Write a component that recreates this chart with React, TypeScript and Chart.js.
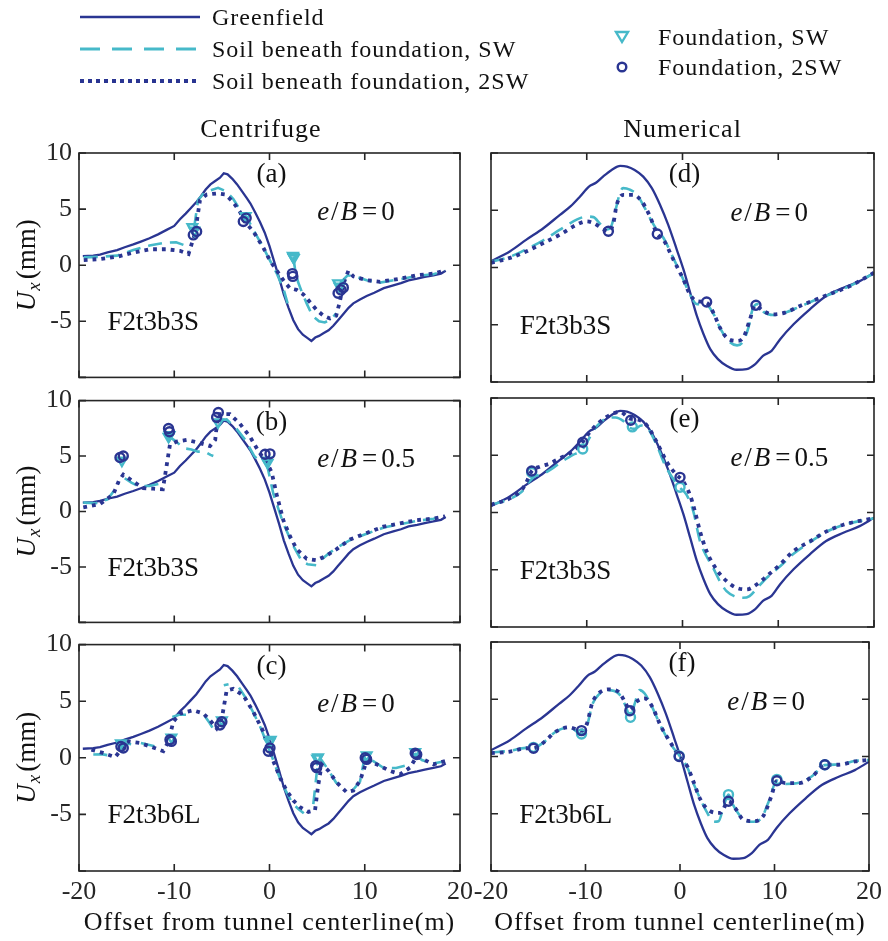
import React, { useEffect, useRef } from 'react';
import { Chart, registerables } from 'chart.js';

Chart.register(...registerables);

// ---------- styles ----------
const NAVY = '#2a3592';
const CYAN = '#46b9c9';
const INK = '#111111';
const AXIS = '#262626';
const SERIF = '"Liberation Serif", "Times New Roman", serif';

// ---------- labels ----------
const xTickValues = [-20, -10, 0, 10, 20];
const xTickLabels = ['-20', '-10', '0', '10', '20'];
const yTickValues = [-10, -5, 0, 5, 10];
const yTickLabels = ['', '-5', '0', '5', '10'];

const legendLabels = ['Greenfield', 'Soil beneath foundation, SW', 'Soil beneath foundation, 2SW', 'Foundation, SW', 'Foundation, 2SW'];
const columnTitles = ['Centrifuge', 'Numerical'];
const xAxisTitle = 'Offset from tunnel centerline(m)';
const panelLetters = ['(a)', '(b)', '(c)', '(d)', '(e)', '(f)'];
const eccentricity = ['0', '0.5', '0', '0', '0.5', '0'];
const specimens = ['F2t3b3S', 'F2t3b3S', 'F2t3b6L', 'F2t3b3S', 'F2t3b3S', 'F2t3b6L'];

// ---------- greenfield ----------
const cenGreenX = [-19.6, -18.5, -17.8, -17.0, -16.0, -15.2, -14.3, -13.5, -12.6, -11.7, -10.8, -10.0, -9.4, -8.8, -8.3, -7.7, -7.2, -6.7, -6.2, -5.7, -5.2, -4.8, -4.4, -3.9, -3.4, -2.9, -2.4, -2.0, -1.5, -1.0, -0.5, 0.0, 0.5, 1.0, 1.5, 2.0, 2.5, 3.0, 3.5, 4.0, 4.4, 4.8, 5.2, 5.7, 6.2, 6.7, 7.2, 7.8, 8.3, 8.8, 9.5, 10.2, 11.0, 12.0, 13.0, 13.8, 14.6, 15.5, 16.3, 17.2, 18.0, 18.5];
const cenGreenY = [0.8, 0.85, 0.95, 1.15, 1.35, 1.6, 1.85, 2.1, 2.4, 2.75, 3.15, 3.5, 4.1, 4.6, 5.05, 5.6, 6.15, 6.75, 7.2, 7.5, 7.8, 8.2, 8.1, 7.7, 7.2, 6.6, 6.0, 5.5, 4.7, 3.85, 2.9, 1.7, 0.3, -1.1, -2.6, -3.8, -4.9, -5.7, -6.2, -6.5, -6.75, -6.45, -6.3, -6.05, -5.8, -5.4, -4.9, -4.3, -3.8, -3.4, -3.05, -2.75, -2.45, -2.05, -1.8, -1.6, -1.35, -1.2, -1.05, -0.9, -0.75, -0.5];

const numGreenX = [-20, -18, -16.3, -14.5, -12.8, -11.7, -10.7, -9.8, -9.0, -8.3, -7.4, -6.5, -5.8, -5.0, -4.1, -3.2, -2.35, -1.5, -0.6, 0.1, 0.8, 1.5, 2.2, 2.9, 3.7, 4.6, 5.65, 6.7, 7.6, 8.4, 9.3, 10.2, 11.6, 13.3, 15.0, 16.8, 18.5, 20];
const numGreenY = [0.55, 1.42, 2.43, 3.45, 4.6, 5.33, 6.2, 7.05, 7.42, 7.94, 8.52, 8.87, 8.81, 8.52, 7.94, 6.93, 5.48, 3.74, 1.57, -0.17, -2.2, -4.23, -5.83, -7.13, -8.0, -8.58, -8.93, -8.87, -8.43, -7.71, -7.28, -6.26, -4.96, -3.65, -2.49, -1.77, -1.19, -0.46];

// ---------- (a) centrifuge, e/B=0, F2t3b3S ----------
const aSwX = [-19.5, -17.8, -16.0, -14.3, -12.6, -11.0, -9.8, -9.0, -8.4, -8.2, -7.9, -7.5, -6.8, -5.4, -4.6, -3.8, -3.0, -2.4, -1.6, -0.8, 0.0, 0.8, 1.5, 1.9, 2.2, 2.5, 2.7, 3.0, 3.4, 3.9, 4.5, 5.2, 5.8, 6.5, 7.0, 7.1, 7.4, 8.2, 9.0, 10.2, 11.6, 13.7, 15.5, 17.2, 18.4];
const aSwY = [0.7, 0.75, 0.85, 1.35, 1.75, 2.0, 2.05, 1.8, 1.3, null, 3.4, 5.8, 6.5, 6.9, 6.6, 5.9, 4.8, 4.3, 3.0, 1.8, 0.5, -0.8, -2.2, -3.4, null, 0.8, -0.5, -1.5, -2.4, -3.4, -4.5, -5.0, -5.1, -4.8, -4.3, null, -1.6, -0.9, -1.0, -1.35, -1.55, -1.25, -0.95, -0.8, -0.5];
const a2swX = [-19.5, -17.8, -16.0, -14.3, -12.6, -10.8, -9.4, -8.5, -7.8, -7.3, -6.6, -5.5, -4.6, -3.8, -3.1, -2.6, -1.7, -0.65, 0.05, 0.75, 1.45, 2.15, 2.85, 3.55, 4.26, 4.96, 5.65, 6.35, 7.0, 7.4, 7.7, 8.28, 8.8, 10.2, 11.6, 13.7, 15.46, 17.2, 18.43];
const a2swY = [0.46, 0.55, 0.75, 1.13, 1.42, 1.42, 1.28, 1.0, 2.9, 5.8, 6.3, 6.4, 6.3, 5.6, 4.75, 3.9, 3.0, 1.57, 0.41, -0.46, -1.33, -2.06, -2.2, -2.6, -3.3, -4.0, -4.5, -4.75, -4.5, -3.2, -1.8, -0.5, -1.0, -1.33, -1.48, -1.2, -0.9, -0.75, -0.46];
const aFndSwX = [-8.1, -7.9, -2.5, 2.45, 2.55, 2.5, 7.2, 7.35];
const aFndSwY = [3.4, 3.1, 4.4, 0.85, 0.65, 0.75, -1.6, -1.9];
const aFnd2swX = [-8.0, -7.65, -2.75, -2.45, 2.4, 2.45, 7.2, 7.5, 7.75];
const aFnd2swY = [2.7, 3.0, 3.9, 4.2, -0.75, -1.0, -2.5, -2.2, -2.0];

// ---------- (b) centrifuge, e/B=0.5, F2t3b3S ----------
const bSwX = [-19.55, -18.2, -17.0, -16.3, -15.8, -15.6, -15.2, -14.5, -13.8, -12.6, -11.6, -11.2, -11.0, -10.6, -9.8, -9.0, -8.2, -7.5, -6.8, -6.2, -5.9, -5.7, -5.4, -4.5, -3.5, -2.5, -1.6, -0.8, -0.6, -0.3, 0.4, 1.45, 2.5, 3.4, 4.0, 4.9, 5.1, 5.5, 6.2, 7.0, 8.4, 10.2, 12.0, 13.7, 15.5, 17.2, 18.4];
const bSwY = [0.8, 0.75, 1.1, 1.9, 2.6, null, 3.0, 2.6, 2.3, 2.3, 2.5, 2.7, null, 6.8, 6.3, 5.7, 5.6, 5.4, 5.4, 5.1, 5.0, null, 8.2, 8.3, 7.5, 6.4, 5.0, 4.3, null, 4.4, 1.6, -1.07, -3.1, -4.5, -4.75, -4.85, null, -4.3, -3.8, -3.3, -2.6, -2.0, -1.45, -1.15, -0.85, -0.65, -0.45];
const b2swX = [-19.55, -17.8, -16.4, -15.8, -15.35, -14.3, -13.25, -12.2, -11.2, -10.8, -10.45, -9.75, -8.7, -7.3, -6.25, -5.7, -5.4, -4.15, -3.1, -2.05, -1.17, -0.3, 0.22, 0.75, 1.45, 2.15, 2.85, 3.9, 4.96, 6.0, 7.05, 8.45, 10.2, 11.96, 13.7, 15.46, 17.2, 18.43];
const b2swY = [0.38, 0.67, 1.54, 2.8, 3.33, 2.7, 2.1, 2.06, 2.0, 4.14, 6.03, 6.3, 6.46, 6.17, 5.9, 6.46, 8.78, 8.78, 7.9, 6.75, 5.45, 4.43, 3.56, 1.54, -0.78, -2.23, -3.39, -4.26, -4.4, -3.97, -3.39, -2.52, -1.94, -1.36, -1.07, -0.78, -0.64, -0.43];
const bFndSwX = [-15.5, -10.6, -10.5, -5.4, -0.3, -0.2];
const bFndSwY = [4.6, 6.75, 6.9, 8.06, 4.6, 4.4];
const bFnd2swX = [-15.7, -15.35, -10.6, -10.5, -5.55, -5.37, -0.47, 0.05];
const bFnd2swY = [4.87, 5.0, 7.48, 7.19, 8.49, 8.93, 5.16, 5.2];

// ---------- (c) centrifuge, e/B=0, F2t3b6L ----------
const cSwX = [-18.5, -17.5, -16.8, -16.4, -15.9, -15.2, -14.5, -14.0, -13.5, -12.5, -11.5, -10.8, -10.2, -9.5, -8.6, -8.0, -7.4, -6.8, -6.3, -5.8, -5.5, -5.2, -4.8, -4.3, -3.9, -3.2, -2.5, -1.7, -0.9, -0.3, 0.3, 1.0, 1.7, 2.4, 3.0, 3.6, 4.1, 4.6, 5.0, 5.3, 6.2, 7.0, 7.8, 8.3, 8.8, 9.5, 10.0, 10.9, 12.0, 13.3, 14.2, 14.7, 15.2, 16.0, 17.2, 18.4];
const cSwY = [0.29, 0.3, 0.2, null, 1.0, 1.3, 1.2, null, 1.3, 1.1, 0.9, null, 3.6, 3.8, 3.8, 3.6, null, 3.7, 3.1, 2.4, 2.1, null, 6.4, 6.5, null, 6.2, 5.3, 4.0, 2.6, 1.3, 0.0, -1.6, -2.9, -4.0, -4.5, -4.9, null, -4.1, -1.0, 0.0, -1.1, -2.2, -2.6, null, -2.8, -2.1, 0.1, -0.3, -0.9, -0.9, -0.7, null, 0.4, -0.2, -0.5, -0.3];
const c2swX = [-18.7, -17.5, -16.2, -15.7, -15.2, -14.8, -13.6, -12.55, -11.15, -10.6, -10.1, -9.4, -8.0, -6.95, -6.25, -5.55, -5.0, -4.5, -3.8, -2.75, -1.7, -0.65, -0.12, 0.4, 1.1, 1.8, 2.5, 3.2, 4.08, 4.78, 5.1, 5.48, 6.2, 7.05, 8.1, 8.8, 9.5, 10.2, 11.26, 12.66, 13.7, 14.75, 15.46, 16.16, 17.2, 18.43];
const c2swY = [0.72, 0.43, 0.06, 0.6, 1.2, 1.45, 1.3, 1.01, 0.58, 1.45, 3.19, 3.91, 4.2, 3.91, 3.33, 2.6, 3.5, 5.94, 6.09, 5.51, 4.06, 2.32, 1.01, -0.29, -1.74, -2.9, -3.77, -4.35, -4.78, -4.64, -2.5, -0.58, -1.16, -2.17, -3.04, -2.9, -2.03, -0.29, -0.58, -1.16, -1.45, -0.87, 0.14, -0.14, -0.58, -0.29];
const cFndSwX = [-15.6, -10.3, -5.0, 0.12, 0.0, 5.1, 5.0, 10.2, 15.3];
const cFndSwY = [1.3, 1.8, 3.33, 1.59, 1.4, 0.06, -0.05, 0.23, 0.52];
const cFnd2swX = [-15.35, -15.6, -10.3, -10.45, -5.2, -5.0, -0.12, 0.05, 4.95, 4.85, 10.2, 10.05, 15.46, 15.3];
const cFnd2swY = [0.87, 1.0, 1.45, 1.6, 2.9, 3.19, 0.58, 0.87, -0.87, -0.7, -0.14, 0.0, 0.29, 0.4];

// ---------- (d) numerical, e/B=0, F2t3b3S ----------
const dSwX = [-20, -18, -16.3, -14.5, -12.8, -11.0, -10.0, -9.3, -8.6, -8.0, -7.5, -7.0, -6.5, -6.2, -5.5, -4.8, -4.0, -3.2, -2.6, -2.0, -1.0, 0.0, 0.8, 1.5, 2.4, 3.2, 4.0, 4.8, 5.7, 6.3, 6.9, 7.3, 7.8, 8.5, 9.5, 10.7, 12.3, 14.0, 15.8, 17.5, 20];
const dSwY = [0.5, 0.95, 1.6, 2.4, 3.3, 4.2, 4.45, 4.4, 3.8, 3.3, 3.5, 5.0, 6.6, 6.93, 6.8, 6.4, 5.3, 4.0, 3.2, 2.6, 0.9, -0.9, -2.4, -3.2, -3.2, -4.0, -5.4, -6.4, -6.8, -6.5, -5.2, -3.7, -3.2, -3.9, -4.15, -3.95, -3.4, -2.8, -2.2, -1.6, -0.5];
const d2swX = [-20, -18, -16.27, -14.53, -12.79, -11.05, -10.0, -9.3, -8.44, -7.74, -7.22, -6.87, -6.18, -5.13, -4.26, -3.39, -2.7, -2.0, -0.96, 0.09, 0.78, 1.48, 2.52, 3.22, 3.91, 4.61, 5.65, 6.35, 7.05, 7.57, 8.44, 9.48, 10.7, 12.27, 14.0, 15.75, 17.49, 20];
const d2swY = [0.41, 0.84, 1.42, 2.14, 2.87, 3.74, 4.03, 3.88, 3.45, 3.16, 3.88, 5.48, 6.35, 6.35, 5.77, 4.46, 3.01, 2.43, 0.7, -1.04, -2.35, -2.93, -3.07, -3.94, -5.25, -6.12, -6.41, -6.12, -4.52, -3.3, -3.8, -4.09, -3.94, -3.36, -2.78, -2.2, -1.62, -0.46];
const dFndSwX: number[] = [];
const dFndSwY: number[] = [];
const dFnd2swX = [-7.74, -2.63, 2.52, 7.67];
const dFnd2swY = [3.16, 2.93, -3.01, -3.3];

// ---------- (e) numerical, e/B=0.5, F2t3b3S ----------
const eSwX = [-20, -18, -16.8, -16.0, -15.5, -14.5, -13.5, -12.5, -11.5, -10.42, -9.8, -9.0, -8.0, -7.0, -6.2, -5.5, -5.0, -4.3, -3.5, -2.7, -1.8, -0.78, -0.3, 0.43, 1.13, 1.83, 2.5, 3.2, 3.9, 4.6, 5.4, 6.3, 7.0, 7.8, 8.8, 10.2, 11.6, 13.3, 15.0, 16.8, 20];
const eSwY = [0.67, 1.2, 1.8, 2.7, 3.1, 3.4, 3.9, 4.5, 5.0, 5.54, 6.4, 7.5, 8.2, 8.3, 8.0, 7.4, 7.3, 7.6, 7.2, 5.9, 4.1, 2.7, 2.2, 1.54, 0.09, -2.52, -3.8, -4.84, -6.0, -6.87, -7.3, -7.45, -7.3, -6.6, -5.7, -4.7, -3.6, -2.6, -1.7, -1.1, -0.5];
const e2swX = [-20, -18, -16.8, -16.27, -15.75, -14.88, -13.83, -12.79, -11.74, -10.53, -9.66, -8.61, -7.57, -6.52, -5.48, -4.6, -3.74, -2.7, -1.65, -0.61, 0.0, 0.78, 1.3, 1.83, 2.52, 3.57, 4.61, 5.65, 6.7, 7.74, 8.79, 10.18, 11.57, 13.31, 15.05, 16.79, 20];
const e2swY = [0.67, 1.25, 1.97, 2.7, 3.62, 4.0, 4.29, 4.75, 5.19, 6.06, 7.04, 7.94, 8.52, 8.78, 8.2, 8.1, 7.62, 6.17, 4.43, 3.28, 2.8, 1.54, 0.09, -1.65, -3.39, -5.0, -6.0, -6.58, -6.72, -6.29, -5.57, -4.55, -3.39, -2.52, -1.65, -1.07, -0.49];
const eFndSwX = [-15.75, -10.42, -5.24, -0.26];
const eFndSwY = [3.5, 5.54, 7.48, 2.2];
const eFnd2swX = [-15.75, -10.42, -5.41, -0.26];
const eFnd2swY = [3.62, 6.14, 8.06, 3.07];

// ---------- (f) numerical, e/B=0, F2t3b6L ----------
const fSwX = [-20, -18, -16.3, -15.5, -14.5, -13.1, -11.7, -10.42, -9.8, -9.3, -8.6, -7.6, -6.5, -5.8, -5.24, -4.8, -4.26, -3.74, -3.0, -2.0, -1.0, 0.0, 0.8, 1.5, 2.2, 2.8, 3.6, 4.09, 4.6, 5.13, 5.6, 6.5, 7.5, 8.5, 9.4, 10.25, 11.2, 12.6, 14.0, 15.3, 16.8, 18.5, 20];
const fSwY = [0.35, 0.5, 0.75, 0.75, 1.2, 2.2, 2.55, 1.97, 2.8, 4.5, 5.4, 5.8, 5.5, 4.5, 3.42, 4.6, 5.8, 5.5, 4.4, 2.6, 1.1, 0.0, -1.0, -2.5, -3.8, -4.8, -5.7, -5.65, -4.4, -3.33, -4.2, -5.3, -5.7, -5.5, -3.9, -2.1, -2.4, -2.3, -1.7, -0.75, -0.7, -0.4, -0.3];
const f2swX = [-20, -18, -16.27, -15.5, -14.53, -13.14, -11.74, -10.42, -9.83, -9.3, -8.61, -7.57, -6.52, -5.83, -5.31, -4.61, -3.74, -3.04, -2.0, -0.96, -0.09, 0.78, 1.48, 2.17, 3.22, 4.26, 5.13, 5.83, 6.7, 7.74, 8.79, 9.66, 10.25, 11.22, 12.62, 14.0, 15.33, 16.79, 18.53, 20];
const f2swY = [0.29, 0.43, 0.72, 0.72, 1.16, 2.17, 2.55, 2.26, 2.9, 4.64, 5.51, 5.86, 5.65, 4.78, 4.06, 4.78, 5.07, 4.49, 2.61, 1.16, 0, -0.87, -2.32, -3.77, -4.78, -4.93, -3.91, -4.49, -5.51, -5.65, -5.22, -3.48, -2.12, -2.32, -2.32, -1.74, -0.72, -0.72, -0.43, -0.29];
const fFndSwX = [-15.5, -10.42, -5.24, -0.09, 5.13, 10.25, 15.33];
const fFndSwY = [0.8, 1.97, 3.42, 0.05, -3.33, -2.0, -0.72];
const fFnd2swX = [-15.5, -10.42, -5.31, -0.09, 5.13, 10.25, 15.33];
const fFnd2swY = [0.72, 2.26, 4.0, 0.0, -3.91, -2.12, -0.72];

// ---------- layout (page pixels) ----------
const COLS = [
  { left: 79, right: 460, canvasX: 0, canvasW: 480, titleX: -0.9 },
  { left: 491, right: 874, canvasX: 466, canvasW: 422, titleX: 0 },
];
const ROWS = [
  { top: 153, bottom: 382, canvasY: 108, canvasH: 292 },
  { top: 398, bottom: 627, canvasY: 378, canvasH: 267 },
  { top: 642, bottom: 871, canvasY: 622, canvasH: 319 },
];
const TICK = 7;

type Arr = (number | null)[];
interface PanelDef {
  col: number; row: number;
  green: [number[], Arr]; sw: [number[], Arr]; w2: [number[], Arr];
  mSw: [number[], Arr]; m2: [number[], Arr];
  numerical: boolean;
}

const panelDefs: PanelDef[] = [
  { col: 0, row: 0, green: [cenGreenX, cenGreenY], sw: [aSwX, aSwY], w2: [a2swX, a2swY], mSw: [aFndSwX, aFndSwY], m2: [aFnd2swX, aFnd2swY], numerical: false },
  { col: 0, row: 1, green: [cenGreenX, cenGreenY], sw: [bSwX, bSwY], w2: [b2swX, b2swY], mSw: [bFndSwX, bFndSwY], m2: [bFnd2swX, bFnd2swY], numerical: false },
  { col: 0, row: 2, green: [cenGreenX, cenGreenY], sw: [cSwX, cSwY], w2: [c2swX, c2swY], mSw: [cFndSwX, cFndSwY], m2: [cFnd2swX, cFnd2swY], numerical: false },
  { col: 1, row: 0, green: [numGreenX, numGreenY], sw: [dSwX, dSwY], w2: [d2swX, d2swY], mSw: [dFndSwX, dFndSwY], m2: [dFnd2swX, dFnd2swY], numerical: true },
  { col: 1, row: 1, green: [numGreenX, numGreenY], sw: [eSwX, eSwY], w2: [e2swX, e2swY], mSw: [eFndSwX, eFndSwY], m2: [eFnd2swX, eFnd2swY], numerical: true },
  { col: 1, row: 2, green: [numGreenX, numGreenY], sw: [fSwX, fSwY], w2: [f2swX, f2swY], mSw: [fFndSwX, fFndSwY], m2: [fFnd2swX, fFnd2swY], numerical: true },
];

const pts = (xs: number[], ys: Arr) => xs.map((x, i) => ({ x, y: ys[i] }));
const font = (size: number, italic = false) => `${italic ? 'italic ' : ''}${size}px ${SERIF}`;

type Run = { t: string; italic?: boolean; size?: number; dy?: number; gap?: number };
function drawRuns(ctx: CanvasRenderingContext2D, runs: Run[], x: number, y: number, align: 'left' | 'center', base: number) {
  const widths = runs.map((r) => {
    ctx.font = font(r.size ?? base, r.italic);
    return ctx.measureText(r.t).width;
  });
  const total = widths.reduce((s, w, i) => s + w + (runs[i].gap ?? 0), 0);
  let cx = align === 'center' ? x - total / 2 : x;
  ctx.textAlign = 'left';
  ctx.textBaseline = 'alphabetic';
  runs.forEach((r, i) => {
    ctx.font = font(r.size ?? base, r.italic);
    ctx.fillText(r.t, cx, y + (r.dy ?? 0));
    cx += widths[i] + (r.gap ?? 0);
  });
}

function makeDecor(p: PanelDef, idx: number) {
  return {
    id: 'decor' + idx,
    afterDraw(chart: any) {
      const { ctx, chartArea: a, scales } = chart;
      const xs = scales.x;
      const ys = scales.y;
      ctx.save();
      // box and inward ticks
      ctx.strokeStyle = AXIS;
      ctx.lineWidth = 1.6;
      ctx.strokeRect(a.left, a.top, a.right - a.left, a.bottom - a.top);
      ctx.beginPath();
      for (const v of xTickValues) {
        const px = xs.getPixelForValue(v);
        ctx.moveTo(px, a.bottom); ctx.lineTo(px, a.bottom - TICK);
        ctx.moveTo(px, a.top); ctx.lineTo(px, a.top + TICK);
      }
      for (const v of yTickValues) {
        const py = ys.getPixelForValue(v);
        ctx.moveTo(a.left, py); ctx.lineTo(a.left + TICK, py);
        ctx.moveTo(a.right, py); ctx.lineTo(a.right - TICK, py);
      }
      ctx.stroke();

      ctx.fillStyle = INK;
      const S = 27;
      // panel letter
      drawRuns(ctx, [{ t: panelLetters[idx] }], xs.getPixelForValue(0.2), a.top + 20 + 9, 'center', S);
      // e/B label
      drawRuns(ctx, [
        { t: 'e', italic: true, gap: 2 },
        { t: '/', gap: 2 },
        { t: 'B', italic: true, gap: 5 },
        { t: '=', gap: 4 },
        { t: eccentricity[idx] },
      ], xs.getPixelForValue(5.0), ys.getPixelForValue(4.85) + 9, 'left', S);
      // specimen
      drawRuns(ctx, [{ t: specimens[idx] }], xs.getPixelForValue(-17.0), ys.getPixelForValue(-5.0) + 9, 'left', S);

      (ctx as any).letterSpacing = '1px';
      if (p.row === 0) {
        drawRuns(ctx, [{ t: columnTitles[p.col] }], xs.getPixelForValue(COLS[p.col].titleX), a.top - 25 + 9, 'center', 26);
      }
      if (p.row === 2) {
        drawRuns(ctx, [{ t: xAxisTitle }], (a.left + a.right) / 2, a.bottom + 50 + 9, 'center', 26);
      }
      (ctx as any).letterSpacing = '0px';
      if (p.col === 0) {
        ctx.save();
        ctx.translate(26, (a.top + a.bottom) / 2);
        ctx.rotate(-Math.PI / 2);
        drawRuns(ctx, [
          { t: 'U', italic: true, gap: 1 },
          { t: 'x', italic: true, size: 19, dy: 5, gap: 3 },
          { t: '(mm)' },
        ], 0, 9, 'center', 27);
        ctx.restore();
      }
      ctx.restore();
    },
  };
}

function buildConfig(p: PanelDef, idx: number): any {
  const col = COLS[p.col];
  const row = ROWS[p.row];
  const L = col.left - col.canvasX;
  const R = col.canvasX + col.canvasW - col.right;
  const T = row.top - row.canvasY;
  const B = row.canvasY + row.canvasH - row.bottom;
  const isLeft = p.col === 0;
  const isBottom = p.row === 2;
  const curve = p.numerical ? { cubicInterpolationMode: 'monotone' } : { tension: 0 };
  const tickFont = { family: SERIF, size: 26 };

  return {
    type: 'line',
    data: {
      datasets: [
        { label: legendLabels[0], data: pts(p.green[0], p.green[1]), borderColor: NAVY, borderWidth: 2.3, pointRadius: 0, order: 5, ...curve },
        { label: legendLabels[1], data: pts(p.sw[0], p.sw[1]), borderColor: CYAN, borderWidth: 2.6, borderDash: [14, 8], pointRadius: 0, order: 4, spanGaps: false, ...curve },
        { label: legendLabels[2], data: pts(p.w2[0], p.w2[1]), borderColor: NAVY, borderWidth: 3.8, borderDash: [3.8, 5], pointRadius: 0, order: 3, ...curve },
        {
          label: legendLabels[3], data: pts(p.mSw[0], p.mSw[1]), showLine: false,
          pointStyle: p.numerical ? 'circle' : 'triangle', pointRotation: p.numerical ? 0 : 180,
          pointRadius: p.numerical ? 4.5 : 5.5, pointBorderWidth: 2.4,
          pointBorderColor: CYAN, pointBackgroundColor: 'rgba(255,255,255,0)', borderColor: CYAN, order: 2,
        },
        {
          label: legendLabels[4], data: pts(p.m2[0], p.m2[1]), showLine: false,
          pointStyle: 'circle', pointRadius: 4.5, pointBorderWidth: 2.4,
          pointBorderColor: NAVY, pointBackgroundColor: 'rgba(255,255,255,0)', borderColor: NAVY, order: 1,
        },
      ],
    },
    options: {
      animation: false,
      responsive: false,
      maintainAspectRatio: false,
      devicePixelRatio: 1,
      events: [],
      layout: { padding: { left: 0, top: T, right: R, bottom: 0 } },
      plugins: { legend: { display: false }, tooltip: { enabled: false }, title: { display: false } },
      scales: {
        x: {
          type: 'linear', min: -20, max: 20,
          grid: { display: false, drawTicks: false, tickLength: 0 },
          border: { display: false },
          ticks: {
            display: isBottom, stepSize: 10, padding: 6, autoSkip: false, maxRotation: 0,
            font: tickFont, color: AXIS,
            callback: (v: number) => { const i = xTickValues.indexOf(v); return i >= 0 ? xTickLabels[i] : ''; },
          },
          afterFit: (s: any) => { s.height = B; },
        },
        y: {
          type: 'linear', min: -10, max: 10,
          grid: { display: false, drawTicks: false, tickLength: 0 },
          border: { display: false },
          ticks: {
            display: isLeft, stepSize: 5, padding: 7, autoSkip: false,
            font: tickFont, color: AXIS,
            callback: (v: number) => { const i = yTickValues.indexOf(v); return i >= 0 ? yTickLabels[i] : ''; },
          },
          afterFit: (s: any) => { s.width = L; },
        },
      },
    },
    plugins: [makeDecor(p, idx)],
  };
}

function Panel({ p, idx }: { p: PanelDef; idx: number }) {
  const ref = useRef<HTMLCanvasElement>(null);
  const col = COLS[p.col];
  const row = ROWS[p.row];
  useEffect(() => {
    if (!ref.current) return;
    const chart = new Chart(ref.current, buildConfig(p, idx));
    return () => chart.destroy();
  }, []);
  return (
    <canvas
      ref={ref}
      width={col.canvasW}
      height={row.canvasH}
      style={{ position: 'absolute', left: col.canvasX, top: row.canvasY, width: col.canvasW, height: row.canvasH }}
    />
  );
}

function Legend() {
  const ref = useRef<HTMLCanvasElement>(null);
  useEffect(() => {
    const c = ref.current;
    if (!c) return;
    const ctx = c.getContext('2d');
    if (!ctx) return;
    ctx.clearRect(0, 0, c.width, c.height);
    const rowsY = [17, 49, 81];
    const styles = [
      { color: NAVY, width: 2.5, dash: [] as number[] },
      { color: CYAN, width: 3, dash: [20, 12] },
      { color: NAVY, width: 4, dash: [4, 4] },
    ];
    styles.forEach((s, i) => {
      ctx.save();
      ctx.strokeStyle = s.color;
      ctx.lineWidth = s.width;
      ctx.setLineDash(s.dash);
      ctx.beginPath();
      ctx.moveTo(80, rowsY[i]);
      ctx.lineTo(200, rowsY[i]);
      ctx.stroke();
      ctx.restore();
    });
    // markers
    ctx.save();
    ctx.lineWidth = 2.4;
    ctx.strokeStyle = CYAN;
    ctx.beginPath();
    ctx.moveTo(616, 32); ctx.lineTo(628, 32); ctx.lineTo(622, 42); ctx.closePath();
    ctx.stroke();
    ctx.strokeStyle = NAVY;
    ctx.beginPath();
    ctx.arc(622, 67, 4.3, 0, Math.PI * 2);
    ctx.stroke();
    ctx.restore();
    // text
    ctx.save();
    ctx.fillStyle = INK;
    (ctx as any).letterSpacing = '1px';
    ctx.font = font(24);
    ctx.textAlign = 'left';
    ctx.textBaseline = 'alphabetic';
    rowsY.forEach((y, i) => ctx.fillText(legendLabels[i], 212, y + 8));
    ctx.fillText(legendLabels[3], 658, 37 + 8);
    ctx.fillText(legendLabels[4], 658, 67 + 8);
    ctx.restore();
  }, []);
  return <canvas ref={ref} width={888} height={108} style={{ position: 'absolute', left: 0, top: 0, width: 888, height: 108 }} />;
}

export default function App() {
  return (
    <div style={{ position: 'absolute', left: 0, top: 0, width: 888, height: 941, background: '#ffffff', overflow: 'hidden' }}>
      <Legend />
      {panelDefs.map((p, i) => (
        <Panel key={i} p={p} idx={i} />
      ))}
    </div>
  );
}
